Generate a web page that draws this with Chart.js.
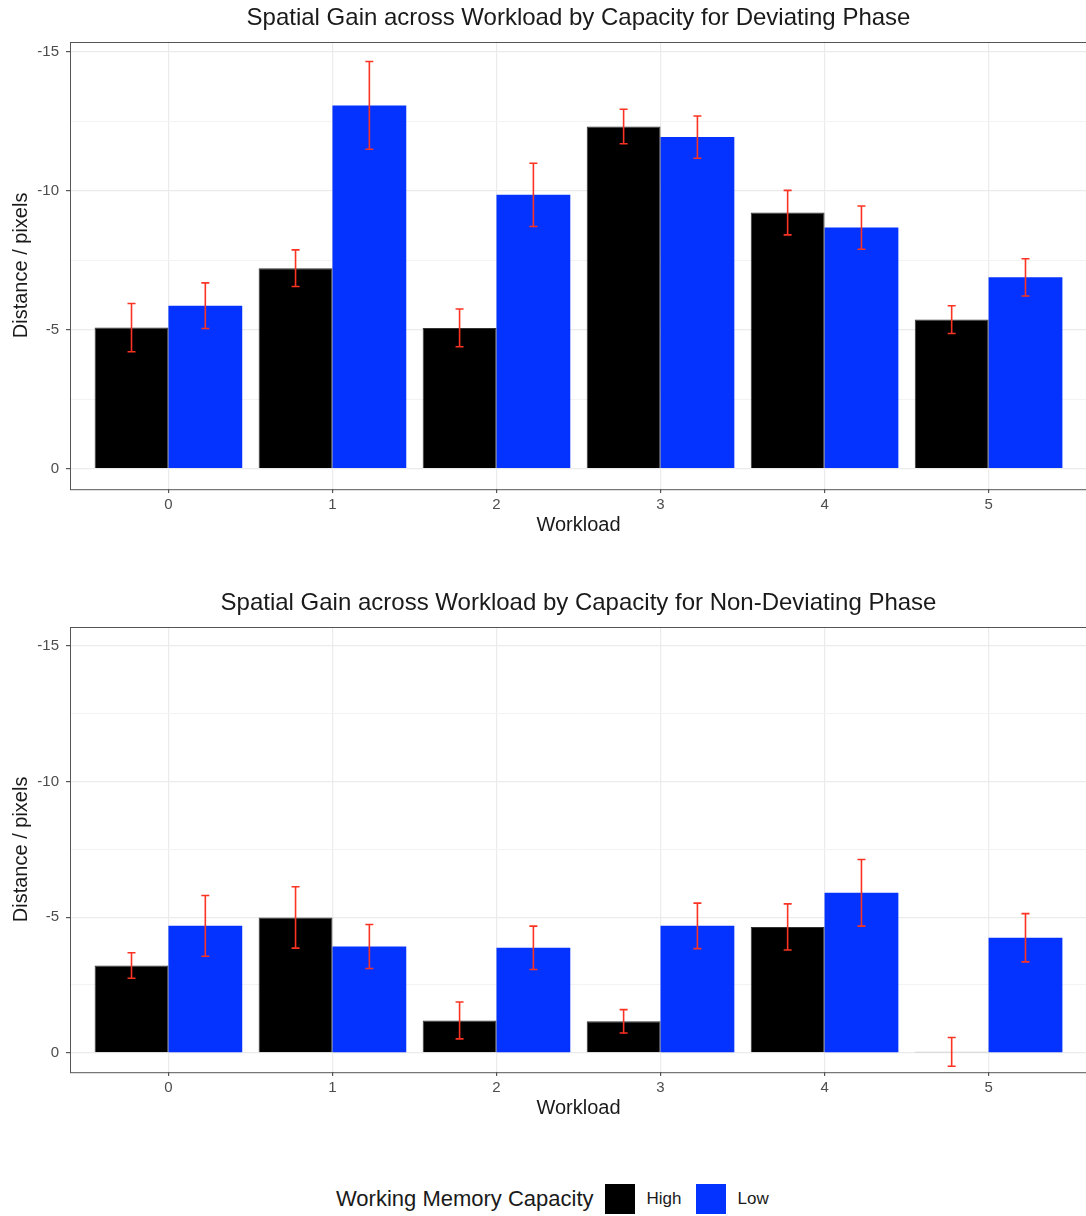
<!DOCTYPE html>
<html>
<head>
<meta charset="utf-8">
<script src="https://cdn.jsdelivr.net/npm/chart.js@4.4.1/dist/chart.umd.min.js"></script>
<style>
  html, body { margin: 0; padding: 0; background: #fff; overflow: hidden; width: 1086px; height: 1216px; }
  canvas { position: absolute; left: 0; }
  #c1 { top: 0; }
  #c2 { top: 585px; }
  #legend { position: absolute; top: 1184px; left: 336px; height: 30px; display: flex; align-items: center;
            font-family: "Liberation Sans", Arial, sans-serif; color: #1a1a1a; white-space: nowrap; }
  #legend .ttl { font-size: 22px; margin-right: 11px; }
  #legend .sw { width: 30px; height: 30px; margin-right: 12px; }
  #legend .lb { font-size: 17px; margin-right: 14px; }
</style>
</head>
<body>
<canvas id="c1" width="1090" height="537"></canvas>
<canvas id="c2" width="1090" height="535"></canvas>
<div id="legend"></div>
<script>
const workloads = [0, 1, 2, 3, 4, 5];
const seriesNames = ["High", "Low"];
const seriesColors = ["#000000", "#0433ff"];
const legendTitle = "Working Memory Capacity";

// deviating phase (mean, standard error)
const devHigh = [-5.08, -7.22, -5.07, -12.32, -9.22, -5.37];
const devHighSe = [0.87, 0.66, 0.68, 0.62, 0.80, 0.50];
const devLow = [-5.87, -13.08, -9.86, -11.94, -8.68, -6.89];
const devLowSe = [0.82, 1.58, 1.14, 0.76, 0.78, 0.67];

// non-deviating phase
const nonHigh = [-3.22, -4.99, -1.19, -1.16, -4.64, -0.03];
const nonHighSe = [0.47, 1.13, 0.68, 0.43, 0.85, 0.53];
const nonLow = [-4.68, -3.92, -3.87, -4.68, -5.90, -4.24];
const nonLowSe = [1.12, 0.81, 0.80, 0.84, 1.23, 0.89];

const yTicks = [-15, -12.5, -10, -7.5, -5, -2.5, 0];

const FONT = '"Liberation Sans", Arial, sans-serif';

const errorBars = {
  id: "errorBars",
  afterDatasetsDraw(chart) {
    const ctx = chart.ctx;
    const y = chart.scales.y;
    ctx.save();
    ctx.strokeStyle = "#fb3322";
    ctx.lineWidth = 1.6;
    chart.data.datasets.forEach((ds, di) => {
      const meta = chart.getDatasetMeta(di);
      meta.data.forEach((bar, i) => {
        const v = ds.data[i].y, e = ds.errors[i];
        const top = y.getPixelForValue(v - e);
        const bot = y.getPixelForValue(v + e);
        const x = bar.x;
        ctx.beginPath();
        ctx.moveTo(x, top); ctx.lineTo(x, bot);
        ctx.moveTo(x - 4, top); ctx.lineTo(x + 4, top);
        ctx.moveTo(x - 4, bot); ctx.lineTo(x + 4, bot);
        ctx.stroke();
      });
    });
    ctx.restore();
  }
};

const frame = {
  id: "frame",
  afterDraw(chart) {
    const a = chart.chartArea, ctx = chart.ctx;
    ctx.save();
    ctx.strokeStyle = "#555";
    ctx.lineWidth = 1;
    ctx.strokeRect(Math.round(a.left) + 0.5, Math.round(a.top) + 0.5, a.right - a.left, a.bottom - a.top);
    ctx.restore();
  }
};

function makeChart(id, title, high, highSe, low, lowSe, yMin, yMax) {
  const toPoints = arr => arr.map((v, i) => ({ x: workloads[i], y: v }));
  return new Chart(document.getElementById(id), {
    type: "bar",
    data: {
      datasets: [
        { label: seriesNames[0], data: toPoints(high), errors: highSe, backgroundColor: seriesColors[0],
          borderColor: "#333", borderWidth: 1, borderSkipped: "start", minBarLength: 1 },
        { label: seriesNames[1], data: toPoints(low), errors: lowSe, backgroundColor: seriesColors[1],
          borderWidth: 0 }
      ]
    },
    plugins: [errorBars, frame],
    options: {
      responsive: false,
      animation: false,
      categoryPercentage: 0.9,
      barPercentage: 1.0,
      layout: { padding: { left: 0, right: 3, top: 0, bottom: 0 } },
      plugins: {
        legend: { display: false },
        tooltip: { enabled: false },
        title: {
          display: true, text: title, color: "#1a1a1a", fullSize: false,
          font: { family: FONT, size: 24, weight: "normal" },
          padding: { top: 4, bottom: 9 }
        }
      },
      scales: {
        x: {
          type: "linear", min: -0.6, max: 5.6, offset: false,
          afterBuildTicks: s => { s.ticks = workloads.map(v => ({ value: v })); },
          afterFit: s => { s.height = 48; },
          grid: { offset: false, color: "#ebebeb", lineWidth: 1.2, tickColor: "#555", tickLength: 4 },
          border: { display: false },
          ticks: { color: "#4d4d4d", font: { family: FONT, size: 15 }, padding: 3, maxRotation: 0 },
          title: { display: true, text: "Workload", color: "#1a1a1a",
                   font: { family: FONT, size: 20 }, padding: { top: 0, bottom: 0 } }
        },
        y: {
          reverse: true, min: yMin, max: yMax,
          afterBuildTicks: s => { s.ticks = yTicks.map(v => ({ value: v })); },
          afterFit: s => { s.width = 70; },
          grid: {
            color: c => (c.tick && c.tick.value % 5 === 0) ? "#ebebeb" : "#f3f3f3",
            lineWidth: c => (c.tick && c.tick.value % 5 === 0) ? 1.2 : 1,
            tickColor: c => (c.tick && c.tick.value % 5 === 0) ? "#555" : "rgba(0,0,0,0)",
            tickLength: 4
          },
          border: { display: false },
          ticks: {
            color: "#4d4d4d", font: { family: FONT, size: 15 }, padding: 7,
            callback: v => (v % 5 === 0 ? String(v) : "")
          },
          title: { display: true, text: "Distance / pixels", color: "#1a1a1a",
                   font: { family: FONT, size: 20 }, padding: { top: 9, bottom: 0 } }
        }
      }
    }
  });
}

makeChart("c1", "Spatial Gain across Workload by Capacity for Deviating Phase",
  devHigh, devHighSe, devLow, devLowSe, -15.37, 0.73);
makeChart("c2", "Spatial Gain across Workload by Capacity for Non-Deviating Phase",
  nonHigh, nonHighSe, nonLow, nonLowSe, -15.71, 0.71);

// legend row
const legend = document.getElementById("legend");
const t = document.createElement("span");
t.className = "ttl"; t.textContent = legendTitle;
legend.appendChild(t);
seriesNames.forEach((name, i) => {
  const sw = document.createElement("span");
  sw.className = "sw"; sw.style.background = seriesColors[i];
  const lb = document.createElement("span");
  lb.className = "lb"; lb.textContent = name;
  legend.appendChild(sw); legend.appendChild(lb);
});
</script>
</body>
</html>
